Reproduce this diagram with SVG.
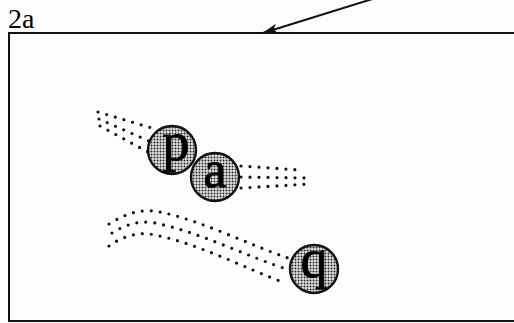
<svg xmlns="http://www.w3.org/2000/svg" width="514" height="323" viewBox="0 0 514 323">
  <defs>
    <pattern id="stip" width="3" height="3" patternUnits="userSpaceOnUse">
      <rect width="3" height="3" fill="#e2e2e2"/>
      <circle cx="1.5" cy="1.5" r="1" fill="#222"/>
    </pattern>
    <marker id="arr" markerWidth="16" markerHeight="10" refX="15" refY="5" orient="auto" markerUnits="userSpaceOnUse">
      <path d="M0,0 L16,5 L0,10 L4,5 Z" fill="#111"/>
    </marker>
  </defs>
  <style>
    .frame { fill: none; stroke: #111; stroke-width: 2; }
    .dot { fill: none; stroke: #111; stroke-width: 3.2; stroke-linecap: round; stroke-dasharray: 0 9; }
    .node circle { fill: url(#stip); stroke: #111; stroke-width: 2.4; }
    .node text { stroke: #000; stroke-width: 0.9; }
  </style>
  <rect width="514" height="323" fill="#fdfdfd"/>
  <text x="8" y="28" font-family="Liberation Serif, DejaVu Serif, serif" font-size="28" fill="#000">2a</text>
  <path class="frame" d="M515,33 H9 V321 H515"/>
  <g id="connectors">
    <line x1="382" y1="-4" x2="263" y2="33" stroke="#111" stroke-width="2" marker-end="url(#arr)"/>
    <path class="dot" d="M98,112 L152,128"/>
    <path class="dot" d="M99,119 L149,141"/>
    <path class="dot" d="M100,126 L148,152"/>
    <path class="dot" d="M241,166 L300,170"/>
    <path class="dot" d="M241,177 L306,178"/>
    <path class="dot" d="M241,188 L310,184"/>
    <path class="dot" d="M109,224 C125,214 140,208 160,212 C200,220 250,245 288,258"/>
    <path class="dot" d="M112,233 C125,225 138,220 155,223 C200,232 250,258 290,270"/>
    <path class="dot" d="M109,246 C120,238 135,232 150,234 C195,242 245,268 285,283"/>
  </g>
  <g id="node-p" class="node">
    <circle cx="172" cy="150" r="24"/>
    <text x="176" y="160" font-family="Liberation Serif, DejaVu Serif, serif" font-size="54" text-anchor="middle" fill="#000">p</text>
  </g>
  <g id="node-a" class="node">
    <circle cx="215" cy="177" r="24"/>
    <text x="215" y="187" font-family="Liberation Serif, DejaVu Serif, serif" font-size="52" text-anchor="middle" fill="#000">a</text>
  </g>
  <g id="node-q" class="node">
    <circle cx="314" cy="269" r="24"/>
    <text x="314" y="277" font-family="Liberation Serif, DejaVu Serif, serif" font-size="54" text-anchor="middle" fill="#000">q</text>
  </g>
</svg>
